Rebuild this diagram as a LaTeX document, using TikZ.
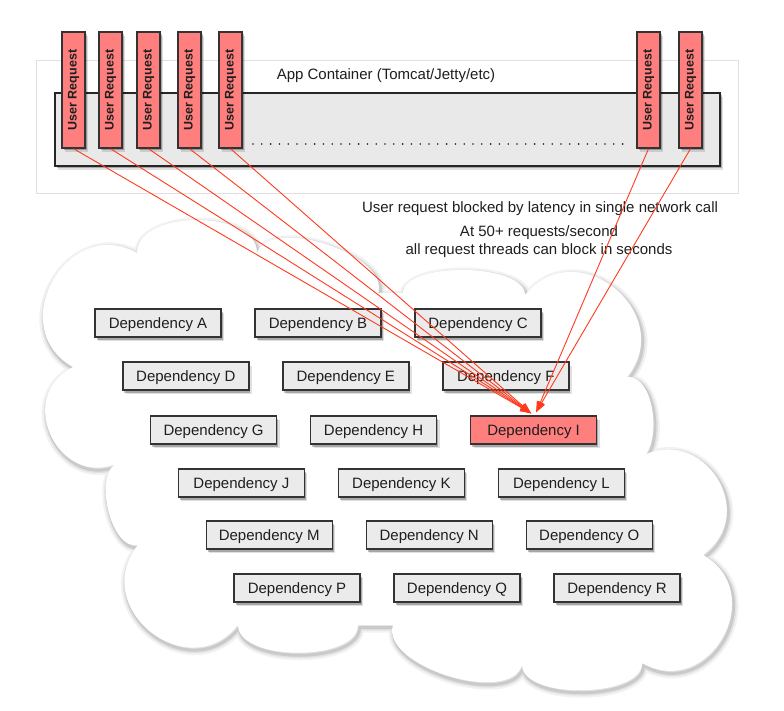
\documentclass[tikz,border=0pt]{standalone}
\usepackage{fontspec}
\setmainfont{Liberation Sans}
\usetikzlibrary{calc,shadows,arrows.meta}
\definecolor{urred}{HTML}{FF7F7F}
\definecolor{boxline}{HTML}{333333}
\definecolor{depfill}{HTML}{EBEBEB}
\definecolor{ctrfill}{HTML}{E9E9E9}
\definecolor{arrowred}{HTML}{FF3A1E}
\definecolor{txt}{HTML}{1E1E1E}
\newcommand\lobe[3]{.. controls ($(#1)!#3!90:(#2)$) and ($(#2)!#3!-90:(#1)$) .. (#2)}
\newcommand\cloudpath{(k1) \lobe{k1}{k2}{80pt} \lobe{k2}{k3}{44pt} \lobe{k3}{k4}{40pt} -- (k4b) \lobe{k4b}{k5}{32pt} \lobe{k5}{k6}{82pt} \lobe{k6}{k7}{31pt} \lobe{k7}{k8}{77pt} \lobe{k8}{k9}{77pt} \lobe{k9}{k10}{35pt} \lobe{k10}{k11}{43pt} -- (k11b) \lobe{k11b}{k12}{37pt} \lobe{k12}{k13}{80pt} \lobe{k13}{k14}{29pt} \lobe{k14}{k1}{67pt} -- cycle}
\tikzset{
  softshadow/.style={drop shadow={shadow xshift=3pt, shadow yshift=-4pt, opacity=0.12, fill=black},
                     drop shadow={shadow xshift=1.5pt, shadow yshift=-2.5pt, opacity=0.25, fill=black}},
  dep/.style={draw=boxline, line width=1.4pt, fill=depfill, minimum width=126pt, minimum height=28pt,
              inner sep=0pt, text depth=0pt, font=\fontsize{15}{18}\selectfont, text=txt, softshadow},
  hot/.style={dep, fill=urred},
  ur/.style={draw=boxline, line width=1.4pt, fill=urred, minimum width=23pt, minimum height=116pt,
             inner sep=0pt, font=\bfseries\fontsize{12.5}{15}\selectfont, text=txt, softshadow},
  container/.style={draw=black!85, line width=1.2pt, fill=ctrfill, minimum width=665pt, minimum height=73pt,
                    inner sep=0pt, softshadow},
  appbox/.style={draw=black!12, line width=1pt, minimum width=702pt, minimum height=133pt, inner sep=0pt},
  lbl/.style={font=\fontsize{15}{18}\selectfont, text=txt, inner sep=0pt},
  req/.style={draw=arrowred, line width=0.9pt, -{Triangle[length=11pt,width=7.5pt]}},
  dotline/.style={draw=txt, line width=1.8pt, line cap=round, dash pattern=on 0pt off 8.8pt},
  cloudshade/.style={draw=black, line join=round}
}
\begin{document}
\begin{tikzpicture}[x=1pt, y=-1pt]
\useasboundingbox (0,0) rectangle (784,711);
% cloud outline points
\coordinate (k1) at (73,367);
\coordinate (k2) at (137,253);
\coordinate (k3) at (257,253);
\coordinate (k4) at (378,293);
\coordinate (k4b) at (403,293);
\coordinate (k5) at (525,295);
\coordinate (k6) at (627,377);
\coordinate (k7) at (633,462);
\coordinate (k8) at (703,555);
\coordinate (k9) at (642,663);
\coordinate (k10) at (522,665);
\coordinate (k11) at (393,625);
\coordinate (k11b) at (358,625);
\coordinate (k12) at (238,625);
\coordinate (k13) at (138,545);
\coordinate (k14) at (120,462);
\begin{scope}[transform canvas={shift={(1.5pt,-2.5pt)}}]
  \path[cloudshade, opacity=0.05, line width=10pt] \cloudpath;
  \path[cloudshade, opacity=0.07, line width=6pt] \cloudpath;
  \path[cloudshade, opacity=0.10, line width=3pt] \cloudpath;
\end{scope}
\fill[white] \cloudpath;

% dependencies
\node[dep] (dA) at (158.0,323) {Dependency A};
\node[dep] (dB) at (318.0,323) {Dependency B};
\node[dep] (dC) at (478.0,323) {Dependency C};
\node[dep] (dD) at (185.8,376) {Dependency D};
\node[dep] (dE) at (345.8,376) {Dependency E};
\node[dep] (dF) at (505.8,376) {Dependency F};
\node[dep] (dG) at (213.6,430) {Dependency G};
\node[dep] (dH) at (373.6,430) {Dependency H};
\node[hot] (dI) at (533.6,430) {Dependency I};
\node[dep] (dJ) at (241.4,483) {Dependency J};
\node[dep] (dK) at (401.4,483) {Dependency K};
\node[dep] (dL) at (561.4,483) {Dependency L};
\node[dep] (dM) at (269.2,535) {Dependency M};
\node[dep] (dN) at (429.2,535) {Dependency N};
\node[dep] (dO) at (589.2,535) {Dependency O};
\node[dep] (dP) at (297.0,588) {Dependency P};
\node[dep] (dQ) at (457.0,588) {Dependency Q};
\node[dep] (dR) at (617.0,588) {Dependency R};

% app container
\node[appbox] (app) at (387,127.5) {};
\node[container] (ctr) at (387.5,129.5) {};
\node[lbl] (title) at (386,76) {App Container (Tomcat/Jetty/etc)};
\coordinate (dotsA) at (253,144);
\coordinate (dotsB) at (623,144);
\draw[dotline] (dotsA) -- (dotsB);

\node[ur] (u1) at (73.5,90) {\rotatebox{90}{User Request}};
\node[ur] (u2) at (110.5,90) {\rotatebox{90}{User Request}};
\node[ur] (u3) at (148.5,90) {\rotatebox{90}{User Request}};
\node[ur] (u4) at (189.5,90) {\rotatebox{90}{User Request}};
\node[ur] (u5) at (230.5,90) {\rotatebox{90}{User Request}};
\node[ur] (u6) at (648.5,90) {\rotatebox{90}{User Request}};
\node[ur] (u7) at (690.5,90) {\rotatebox{90}{User Request}};

% annotations
\node[lbl] (t1) at (540,209) {User request blocked by latency in single network call};
\node[lbl, align=center] (t2) at (539,242) {At 50+ requests/second\\all request threads can block in seconds};

% connectors
\coordinate (tipL) at ([xshift=-2.5pt, yshift=2pt]dI.north);
\coordinate (tipR) at ([xshift=2.5pt, yshift=3pt]dI.north);
\foreach \u in {u1,u2,u3,u4,u5} \draw[req] (\u.south) -- (tipL);
\foreach \u in {u6,u7} \draw[req] (\u.south) -- (tipR);
\end{tikzpicture}
\end{document}
